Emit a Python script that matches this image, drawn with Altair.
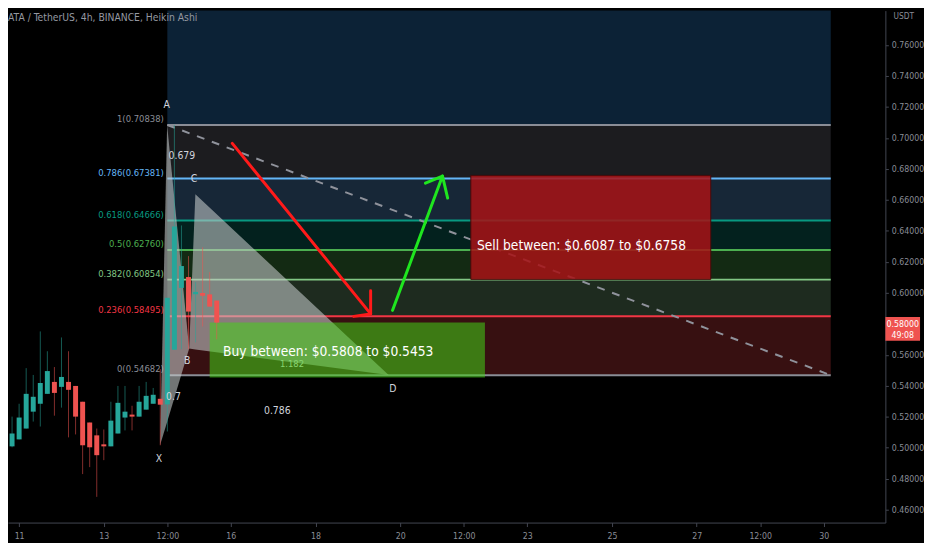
import altair as alt
import pandas as pd

SANS = "Liberation Sans, Arial, Helvetica, sans-serif"
NARROW = "Liberation Sans Narrow, Arial Narrow, DejaVu Sans Condensed, sans-serif"
TXT = "#d1d4dc"
AXIS_TXT = "#8a8d96"

TITLE = "ATA / TetherUS, 4h, BINANCE, Heikin Ashi"

# ---------------- Heikin Ashi candles (4h bars, x = day of month) ----------------
FIRST_BAR_DAY = 10 + 16 / 24
BAR_STEP_DAYS = 4 / 24
ha_open = [0.5035, 0.5009, 0.5054, 0.5124, 0.5233, 0.5284, 0.5348, 0.5425, 0.5393, 0.5425,
           0.5399, 0.5297, 0.5163, 0.5080, 0.5022, 0.5009, 0.5092, 0.5195, 0.5214, 0.5201,
           0.5246, 0.5284, 0.5316, 0.5280, 0.5633, 0.6032, 0.6102, 0.5991, 0.5999, 0.5990,
           0.5950]
ha_high = [0.5048, 0.5201, 0.5284, 0.5514, 0.5470, 0.5751, 0.5623, 0.5521, 0.5712, 0.5623,
           0.5399, 0.5297, 0.5163, 0.5124, 0.5118, 0.5297, 0.5399, 0.5399, 0.5271, 0.5399,
           0.5425, 0.5386, 0.5508, 0.5968, 0.7084, 0.6435, 0.6237, 0.6070, 0.6294, 0.6134,
           0.5950]
ha_low = [0.4856, 0.5003, 0.5054, 0.5124, 0.5169, 0.5137, 0.5348, 0.5207, 0.5259, 0.5067,
          0.5086, 0.4830, 0.4875, 0.4683, 0.4920, 0.5009, 0.5092, 0.5112, 0.5112, 0.5201,
          0.5246, 0.5284, 0.5016, 0.5105, 0.5633, 0.5636, 0.5636, 0.5680, 0.5783, 0.5911,
          0.5700]
ha_close = [0.4984, 0.5092, 0.5195, 0.5348, 0.5329, 0.5418, 0.5495, 0.5354, 0.5457, 0.5374,
            0.5201, 0.5016, 0.5003, 0.4952, 0.5009, 0.5175, 0.5290, 0.5233, 0.5201, 0.5297,
            0.5335, 0.5342, 0.5278, 0.5968, 0.6428, 0.6173, 0.5879, 0.6006, 0.5981, 0.5911,
            0.5808]
UP_COLOR = "#26a69a"
DOWN_COLOR = "#ef5350"

CURRENT_PRICE = 0.58
COUNTDOWN = "49:08"

# ---------------- axes ----------------
X_DOMAIN = [10.8543, 31.3399]
Y_DOMAIN = [0.4517, 0.7822]
X_TICKS = [11, 13, 14.5, 16, 18, 20, 21.5, 23, 25, 27, 28.5, 30]
# 0.58000 sits under the current-price tag, so it is not drawn as a separate tick label
Y_TICKS = [0.46, 0.48, 0.50, 0.52, 0.54, 0.56, 0.60, 0.62, 0.64, 0.66, 0.68,
           0.70, 0.72, 0.74, 0.76]

# ---------------- Fibonacci retracement ----------------
FIB_START, FIB_END = 14.5, 30.1667
FIB_LEVELS = ["0", "0.236", "0.382", "0.5", "0.618", "0.786", "1", "1.618"]
FIB_PRICES = [0.54682, 0.58495, 0.60854, 0.62760, 0.64666, 0.67381, 0.70838, 0.80823]
FIB_LINE_COLORS = ["#8a8d96", "#f23645", "#81c784", "#4caf50", "#089981", "#64b5f6", "#8a8d96"]
FIB_ZONE_COLORS = ["#371011", "#1e2b1f", "#132a13", "#03211e", "#172737", "#1c1c1f", "#0c2236"]

# ---------------- XABCD pattern ----------------
PATTERN_NAMES = ["X", "A", "B", "C", "D"]
PATTERN_T = [14.33, 14.495, 15.016, 15.162, 19.726]
PATTERN_P = [0.5017, 0.7084, 0.5640, 0.6637, 0.5469]
PATTERN_LABEL_T = [14.30, 14.484, 14.970, 15.131, 19.825]
PATTERN_LABEL_P = [0.4926, 0.7215, 0.5559, 0.6735, 0.5380]
RATIO_TEXT = ["0.679", "0.7", "0.786", "1.182"]
RATIO_T = [14.843, 14.646, 17.097, 17.444]
RATIO_P = [0.6882, 0.5329, 0.5239, 0.5543]
DASH_T = [14.5, 30.1667]
DASH_P = [0.70838, 0.54682]

# ---------------- trade zones / arrows ----------------
BUY_T = [15.5, 22.0]
BUY_P = [0.5453, 0.5808]
SELL_T = [21.667, 27.333]
SELL_P = [0.6087, 0.6758]
BUY_TEXT = "Buy between: $0.5808 to $0.5453"
SELL_TEXT = "Sell between: $0.6087 to $0.6758"
BUY_TEXT_POS = (18.30, 0.5620)
SELL_TEXT_POS = (24.28, 0.6300)

RED_SHAFT_T = [16.034, 19.301]
RED_SHAFT_P = [0.6965, 0.5864]
RED_HEAD_T = [18.901, 19.301, 19.301]
RED_HEAD_P = [0.5848, 0.5864, 0.6013]
GREEN_SHAFT_T = [19.819, 20.998]
GREEN_SHAFT_P = [0.5887, 0.6754]
GREEN_HEAD_T = [20.595, 20.998, 21.12]
GREEN_HEAD_P = [0.6708, 0.6754, 0.6612]

# ======================================================================
xs = alt.Scale(domain=X_DOMAIN, nice=False, zero=False)
ys = alt.Scale(domain=Y_DOMAIN, nice=False, zero=False)

x_axis = alt.Axis(values=X_TICKS, title=None, grid=False,
                  labelExpr="datum.value % 1 == 0 ? format(datum.value, 'd') : '12:00'",
                  domainColor="#434651", tickColor="#434651", tickSize=4,
                  labelColor=AXIS_TXT, labelFont=NARROW, labelFontSize=8.8,
                  labelPadding=5, labelFlush=False, labelOverlap=False)
y_axis = alt.Axis(orient="right", values=Y_TICKS, format=".5f", grid=False,
                  domainColor="#434651", tickColor="#434651", tickSize=3,
                  labelColor=AXIS_TXT, labelFont=NARROW, labelFontSize=8.8,
                  labelPadding=3, labelOverlap=False,
                  title="USDT", titleAngle=0, titleX=18, titleY=5, titleAlign="center",
                  titleBaseline="middle", titleFont=NARROW, titleFontSize=8.4,
                  titleFontWeight="normal", titleColor=AXIS_TXT)


def X(field):
    return alt.X(field, type="quantitative", scale=xs, axis=x_axis)


def Y(field):
    return alt.Y(field, type="quantitative", scale=ys, axis=y_axis)


# candles
candles = pd.DataFrame({
    "t": [FIRST_BAR_DAY + i * BAR_STEP_DAYS for i in range(len(ha_open))],
    "open": ha_open, "high": ha_high, "low": ha_low, "close": ha_close,
})
candles["col"] = [UP_COLOR if c >= o else DOWN_COLOR for o, c in zip(ha_open, ha_close)]

# fib zones and lines
zones = pd.DataFrame({
    "lo": FIB_PRICES[:-1], "hi": FIB_PRICES[1:], "col": FIB_ZONE_COLORS,
    "x0": FIB_START, "x1": FIB_END,
})
fib_lines = pd.DataFrame({
    "p": FIB_PRICES[:7], "col": FIB_LINE_COLORS, "x0": FIB_START, "x1": FIB_END,
    "label": [f"{lv}({pr:.5f})" for lv, pr in zip(FIB_LEVELS[:7], FIB_PRICES[:7])],
})


def triangle(i0, i1, i2):
    t0, t1, t2 = PATTERN_T[i0], PATTERN_T[i1], PATTERN_T[i2]
    p0, p1, p2 = PATTERN_P[i0], PATTERN_P[i1], PATTERN_P[i2]
    base = p0 + (p2 - p0) * (t1 - t0) / (t2 - t0)
    return [(t0, p0, p0), (t1, p1, base), (t2, p2, p2)]


tri_rows = []
for name, idx in [("XAB", (0, 1, 2)), ("BCD", (2, 3, 4))]:
    for t, top, bot in triangle(*idx):
        tri_rows.append({"tri": name, "t": t, "top": top, "bot": bot})
tris = pd.DataFrame(tri_rows)

arrow_rows = []
for seg, ts, ps, col in [("rs", RED_SHAFT_T, RED_SHAFT_P, "#ff1a1a"),
                         ("rh", RED_HEAD_T, RED_HEAD_P, "#ff1a1a"),
                         ("gs", GREEN_SHAFT_T, GREEN_SHAFT_P, "#1fe61f"),
                         ("gh", GREEN_HEAD_T, GREEN_HEAD_P, "#1fe61f")]:
    for k, (t, p) in enumerate(zip(ts, ps)):
        arrow_rows.append({"seg": seg, "ord": k, "t": t, "p": p, "col": col})
arrows = pd.DataFrame(arrow_rows)

layers = []

layers.append(alt.Chart(zones).mark_rect(clip=True).encode(
    x=X("x0"), x2="x1", y=Y("lo"), y2="hi", color=alt.Color("col:N", scale=None)))

layers.append(alt.Chart(fib_lines).mark_rule(strokeWidth=2, clip=True).encode(
    x=X("x0"), x2="x1", y=Y("p"), color=alt.Color("col:N", scale=None)))

layers.append(alt.Chart(fib_lines).mark_text(
    align="right", baseline="bottom", dx=-3.5, dy=-1, font=NARROW, fontSize=9.5).encode(
    x=X("x0"), y=Y("p"), text="label:N", color=alt.Color("col:N", scale=None)))

layers.append(alt.Chart(pd.DataFrame({"t": DASH_T, "p": DASH_P})).mark_line(
    strokeDash=[8, 8], strokeWidth=2, color="#8f929b", clip=True).encode(x=X("t"), y=Y("p")))

layers.append(alt.Chart(pd.DataFrame({"t0": [SELL_T[0]], "t1": [SELL_T[1]],
                                      "p0": [SELL_P[0]], "p1": [SELL_P[1]]})).mark_rect(
    color="#a61316", fillOpacity=0.86, stroke="#4a0a0a", strokeWidth=1).encode(
    x=X("t0"), x2="t1", y=Y("p0"), y2="p1"))

layers.append(alt.Chart(tris).mark_area(color="#c4caca", opacity=0.58, clip=True).encode(
    x=X("t"), y=Y("top"), y2="bot", detail="tri:N"))

ratio_df = pd.DataFrame({"t": RATIO_T, "p": RATIO_P, "txt": RATIO_TEXT})
layers.append(alt.Chart(ratio_df.iloc[3:]).mark_text(
    font=NARROW, fontSize=9.5, color="#d8d8d8", align="center", baseline="middle").encode(
    x=X("t"), y=Y("p"), text="txt:N"))

layers.append(alt.Chart(pd.DataFrame({"t0": [BUY_T[0]], "t1": [BUY_T[1]],
                                      "p0": [BUY_P[0]], "p1": [BUY_P[1]]})).mark_rect(
    color="#43d117", fillOpacity=0.55).encode(x=X("t0"), x2="t1", y=Y("p0"), y2="p1"))

layers.append(alt.Chart(candles).mark_rule(strokeWidth=1, opacity=0.55, clip=True).encode(
    x=X("t"), y=Y("low"), y2="high", color=alt.Color("col:N", scale=None)))

layers.append(alt.Chart(candles).mark_bar(size=5, clip=True).encode(
    x=X("t"), y=Y("open"), y2="close", color=alt.Color("col:N", scale=None)))

layers.append(alt.Chart(arrows).mark_line(strokeWidth=3, strokeCap="round",
                                          strokeJoin="round", clip=True).encode(
    x=X("t"), y=Y("p"), detail="seg:N", order="ord:Q", color=alt.Color("col:N", scale=None)))

layers.append(alt.Chart(pd.DataFrame({"t": PATTERN_LABEL_T, "p": PATTERN_LABEL_P,
                                      "txt": PATTERN_NAMES})).mark_text(
    font=NARROW, fontSize=10.5, color=TXT, align="center", baseline="middle").encode(
    x=X("t"), y=Y("p"), text="txt:N"))

layers.append(alt.Chart(ratio_df.iloc[:3]).mark_text(
    font=NARROW, fontSize=10.5, color=TXT, align="center", baseline="middle").encode(
    x=X("t"), y=Y("p"), text="txt:N"))

layers.append(alt.Chart(pd.DataFrame({"t": [BUY_TEXT_POS[0], SELL_TEXT_POS[0]],
                                      "p": [BUY_TEXT_POS[1], SELL_TEXT_POS[1]],
                                      "txt": [BUY_TEXT, SELL_TEXT]})).mark_text(
    font=NARROW, fontSize=13.8, color="#ffffff", align="center", baseline="middle").encode(
    x=X("t"), y=Y("p"), text="txt:N"))

layers.append(alt.Chart(pd.DataFrame({"txt": [TITLE]})).mark_text(
    font=NARROW, fontSize=10.4, color="#9598a1", align="left", baseline="middle").encode(
    x=alt.value(0), y=alt.value(7), text="txt:N"))

price_df = pd.DataFrame({"p": [CURRENT_PRICE], "txt": [f"{CURRENT_PRICE:.5f}"],
                         "cd": [COUNTDOWN]})
layers.append(alt.Chart(price_df).mark_tick(
    orient="horizontal", thickness=24, size=35, color=DOWN_COLOR, opacity=1, yOffset=5).encode(
    x=alt.value(886 + 17.5), y=Y("p")))
layers.append(alt.Chart(price_df).mark_text(
    font=NARROW, fontSize=8.8, color="#ffffff", align="center", baseline="middle").encode(
    x=alt.value(886 + 17.5), y=Y("p"), text="txt:N"))
layers.append(alt.Chart(price_df).mark_text(
    font=NARROW, fontSize=8.8, color="#ffffff", align="center", baseline="middle", dy=11).encode(
    x=alt.value(886 + 17.5), y=Y("p"), text="cd:N"))

chart = alt.layer(*layers).properties(
    width=886, height=517, padding=0
).configure(background="#000000").configure_view(stroke=None)

chart.save("out.html", embed_options={"renderer": "svg", "actions": False})
